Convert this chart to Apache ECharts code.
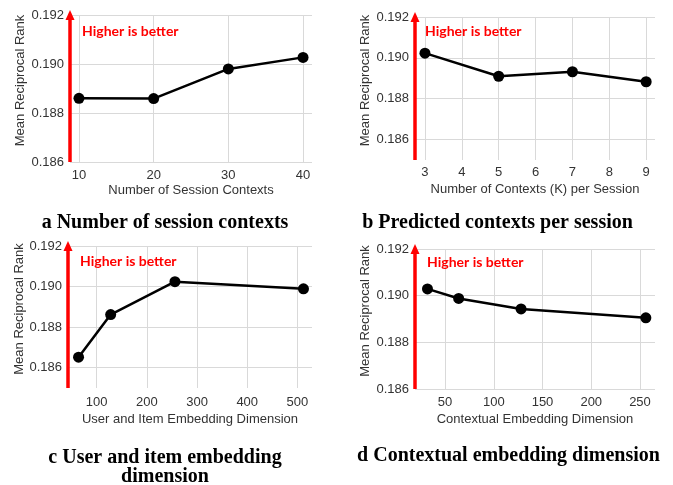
<!DOCTYPE html>
<html>
<head>
<meta charset="utf-8">
<script src="https://cdn.jsdelivr.net/npm/echarts@6/dist/echarts.min.js"></script>
<style>
html,body{margin:0;padding:0;background:#fff;}
#chart{width:673px;height:485px;}
</style>
</head>
<body>
<div id="chart"></div>
<script>
// ---- data ----
const xA = [10, 20, 30, 40];
const yA = [0.1886, 0.18859, 0.1898, 0.19027];
const xB = [3, 5, 7, 9];
const yB = [0.19023, 0.1891, 0.18932, 0.18883];
const xC = [64, 128, 256, 512];
const yC = [0.18652, 0.18862, 0.19024, 0.18989];
const xD = [32, 64, 128, 256];
const yD = [0.19029, 0.18988, 0.18943, 0.18905];

const ticksA = [10, 20, 30, 40];
const ticksB = [3, 4, 5, 6, 7, 8, 9];
const ticksC = [100, 200, 300, 400, 500];
const ticksD = [50, 100, 150, 200, 250];
const yTicks = [0.186, 0.188, 0.190, 0.192];

const xTitles = ['Number of Session Contexts', 'Number of Contexts (K) per Session',
                 'User and Item Embedding Dimension', 'Contextual Embedding Dimension'];
const yTitle = 'Mean Reciprocal Rank';
const captions = ['a Number of session contexts', 'b Predicted contexts per session',
                  'c User and item embedding\ndimension', 'd Contextual embedding dimension'];
const noteText = 'Higher is better';

// ---- layout ----
const panels = [
  {x: xA, y: yA, ticks: ticksA, xmin: 8.8, xmax: 41.2, ymin: 0.186, ymax: 0.192,
   grid: {left: 70, top: 15, width: 242, height: 147}, ygap: 43, xgap: 22, xmargin: 7,
   note: [82, 31], cap: [165, 223]},
  {x: xB, y: yB, ticks: ticksB, xmin: 2.73, xmax: 9.24, ymin: 0.185, ymax: 0.192,
   grid: {left: 415, top: 17, width: 240, height: 143}, ygap: 43, xgap: 23, xmargin: 6,
   note: [425, 31], cap: [497.5, 223]},
  {x: xC, y: yC, ticks: ticksC, xmin: 43, xmax: 529, ymin: 0.185, ymax: 0.192,
   grid: {left: 68, top: 246, width: 244, height: 142}, ygap: 41, xgap: 25, xmargin: 8,
   note: [80, 261], cap: [165, 467]},
  {x: xD, y: yD, ticks: ticksD, xmin: 19.2, xmax: 265.4, ymin: 0.186, ymax: 0.192,
   grid: {left: 415, top: 249, width: 240, height: 140}, ygap: 43, xgap: 24, xmargin: 7,
   note: [427, 262], cap: [508.5, 456]}
];

const gridColor = '#d9d9d9';
const labelFont = {fontFamily: 'Liberation Sans', fontSize: 13, color: '#333'};

const option = {
  animation: false,
  backgroundColor: '#fff',
  grid: panels.map(p => Object.assign({containLabel: false}, p.grid)),
  xAxis: panels.map((p, i) => ({
    type: 'value', gridIndex: i, min: p.xmin, max: p.xmax,
    name: xTitles[i], nameLocation: 'middle', nameGap: p.xgap,
    nameTextStyle: labelFont,
    axisLine: {show: false},
    axisTick: {show: false, customValues: p.ticks},
    axisLabel: Object.assign({customValues: p.ticks, margin: p.xmargin}, labelFont),
    splitLine: {show: true, lineStyle: {color: gridColor, width: 1}}
  })),
  yAxis: panels.map((p, i) => ({
    type: 'value', gridIndex: i, min: p.ymin, max: p.ymax,
    name: yTitle, nameLocation: 'middle', nameGap: p.ygap, nameRotate: 90,
    nameTextStyle: Object.assign({padding: [0, 0, 0, 16]}, labelFont),
    axisLine: {show: false},
    axisTick: {show: false, customValues: yTicks},
    axisLabel: Object.assign({customValues: yTicks, margin: 6,
      formatter: v => v.toFixed(3)}, labelFont),
    splitLine: {show: true, lineStyle: {color: gridColor, width: 1}}
  })),
  series: panels.map((p, i) => ({
    type: 'line', xAxisIndex: i, yAxisIndex: i, clip: false,
    data: p.x.map((v, k) => [v, p.y[k]]),
    symbol: 'circle', symbolSize: 11,
    lineStyle: {color: '#000', width: 2.5},
    itemStyle: {color: '#000'},
    z: 5,
    markLine: {
      silent: true, symbol: ['none', 'triangle'], symbolSize: [9, 10],
      lineStyle: {color: '#ff0000', width: 3.5, type: 'solid'},
      label: {show: false},
      data: [[{coord: [p.xmin, p.ymin]}, {coord: [p.xmin, p.ymax]}]]
    }
  })),
  graphic: [].concat(
    panels.map(p => ({
      type: 'text', x: p.note[0], y: p.note[1], z: 10,
      style: {text: noteText, font: 'bold 14px Lato', fill: '#ff0000',
              align: 'left', verticalAlign: 'middle'}
    })),
    panels.map((p, i) => ({
      type: 'text', x: p.cap[0], y: p.cap[1], z: 10,
      style: {text: captions[i], font: 'bold 20px "Liberation Serif"', fill: '#000',
              align: 'center', verticalAlign: 'middle', lineHeight: 19}
    }))
  )
};

const chart = echarts.init(document.getElementById('chart'), null, {renderer: 'canvas'});
chart.setOption(option);
</script>
</body>
</html>
